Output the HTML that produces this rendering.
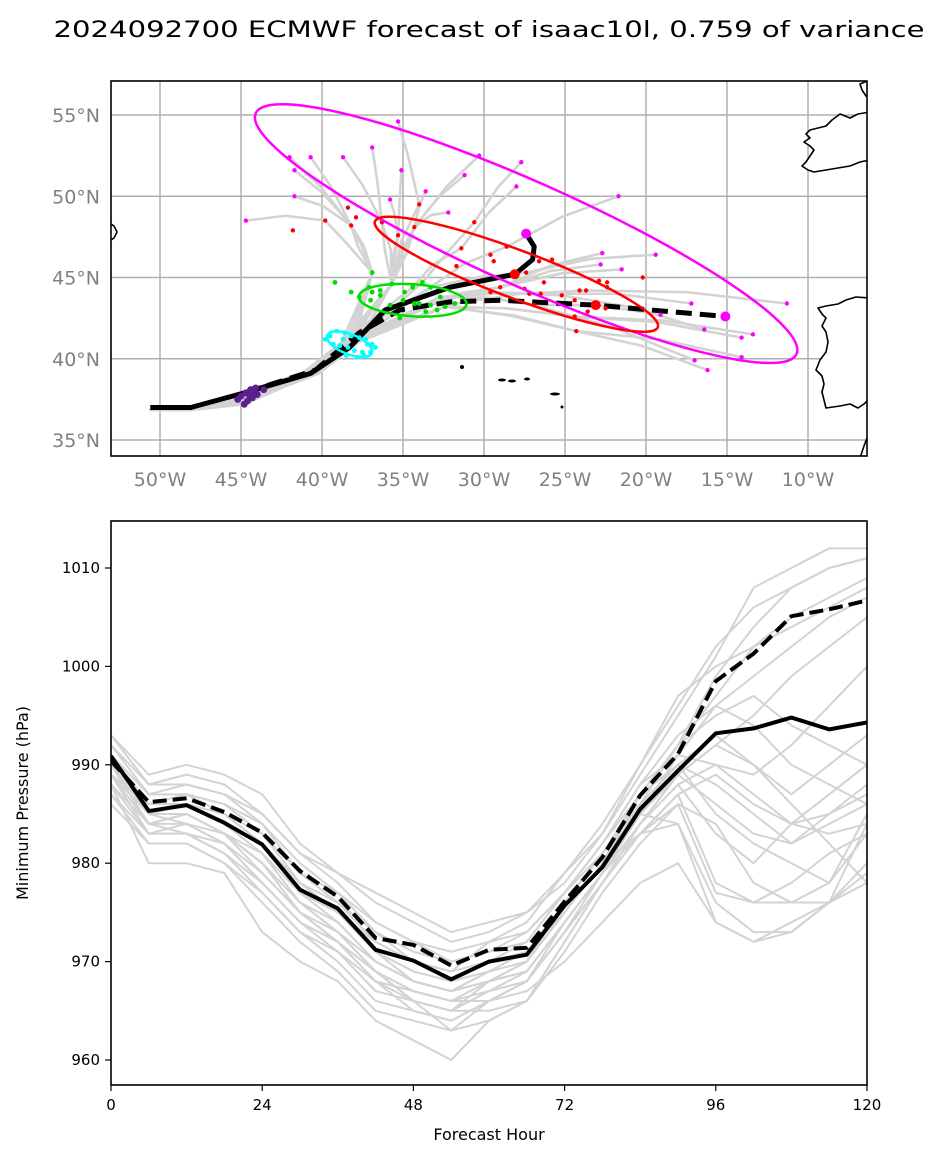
<!DOCTYPE html>
<html><head><meta charset="utf-8"><style>
html,body{margin:0;padding:0;background:#fff;}
svg{display:block;font-family:"DejaVu Sans","Liberation Sans",sans-serif;}
</style></head><body>
<svg id="fig" width="939" height="1163" viewBox="0 0 939 1163" xmlns="http://www.w3.org/2000/svg">
<rect width="939" height="1163" fill="#fff"/>
<text x="489" y="37" text-anchor="middle" font-size="22" textLength="871" lengthAdjust="spacingAndGlyphs">2024092700 ECMWF forecast of isaac10l, 0.759 of variance</text>
<defs><clipPath id="mapclip"><rect x="111" y="81" width="756" height="375"/></clipPath>
<clipPath id="tsclip"><rect x="111" y="521" width="756" height="564"/></clipPath></defs>
<g id="map"></g>
<g id="ts"></g>
</svg>
<script>
// ---------- MAP DATA (lon, lat) ----------
const lonTicks=[-50,-45,-40,-35,-30,-25,-20,-15,-10];
const latTicks=[35,40,45,50,55];
const meanTrackLon=[-50.6,-48.1,-44.8,-40.7,-38.3,-36.1,-32.1,-28.1,-27.0,-26.9,-27.4];
const meanTrackLat=[37.0,37.0,37.9,39.1,40.7,43.0,44.4,45.2,46.1,46.9,47.7];
const detTrackLon=[-44.8,-40.4,-37.7,-35.2,-32.1,-29.0,-23.1,-15.1];
const detTrackLat=[37.9,39.3,41.6,43.0,43.5,43.6,43.3,42.6];
const magLon=[-35.3,-36.9,-42.0,-40.7,-38.7,-41.7,-35.1,-30.3,-27.7,-31.2,-28.0,-33.6,-35.8,-41.7,-32.2,-21.7,-44.7,-22.7,-19.4,-22.8,-21.5,-17.2,-11.3,-19.1,-16.4,-14.1,-13.4,-14.1,-17.0,-16.2];
const magLat=[54.6,53.0,52.4,52.4,52.4,51.6,51.6,52.5,52.1,51.3,50.6,50.3,49.8,50.0,49.0,50.0,48.5,46.5,46.4,45.8,45.5,43.4,43.4,42.7,41.8,41.3,41.5,40.1,39.9,39.3];
const redLon=[-38.4,-37.9,-39.8,-38.2,-41.8,-34.0,-36.3,-34.3,-30.6,-35.3,-31.4,-28.6,-29.6,-29.4,-31.7,-26.6,-25.8,-27.4,-26.3,-20.2,-22.4,-22.9,-22.4,-24.1,-23.7,-25.2,-26.5,-27.5,-27.2,-24.4,-26.9,-22.5,-23.6,-24.4,-24.3,-29.0,-29.6];
const redLat=[49.3,48.7,48.5,48.2,47.9,49.5,48.4,48.1,48.4,47.6,46.8,46.9,46.4,46.0,45.7,46.0,46.1,45.3,44.7,45.0,44.7,44.8,44.4,44.2,44.2,43.9,44.0,44.3,44.0,43.6,43.3,43.1,42.9,42.6,41.7,44.4,44.1];
const grnLon=[-39.2,-36.9,-38.2,-37.7,-37.1,-37.0,-36.4,-35.7,-34.9,-34.4,-33.8,-33.3,-32.7,-31.8,-32.4,-32.9,-33.6,-34.3,-35.0,-35.8,-35.2,-34.0,-33.3,-36.4,-36.9];
const grnLat=[44.7,45.3,44.1,43.8,44.4,43.6,43.9,44.6,44.1,44.4,44.7,44.4,43.8,43.4,43.2,43.0,42.9,43.4,43.6,43.3,42.5,43.4,43.3,44.2,44.1];
const cyanLon=[-39.8,-39.5,-39.1,-38.6,-38.2,-37.7,-37.3,-36.9,-36.7,-37.0,-37.5,-38.0,-38.4,-38.9,-39.3,-38.5,-37.8,-37.4,-38.7,-37.2];
const cyanLat=[41.2,41.4,41.7,41.6,41.4,41.3,41.2,40.9,40.7,40.4,40.4,40.5,40.7,40.8,40.9,40.2,40.1,40.2,41.2,40.9];
const purLon=[-45.0,-44.7,-44.4,-44.1,-44.3,-44.6,-44.0,-45.2,-44.8,-43.6,-44.5,-44.2];
const purLat=[37.7,37.9,38.1,38.2,37.6,37.4,37.8,37.5,37.2,38.1,37.8,37.9];
const ellNames=['magenta','red','green','cyan'];
const ellLon=[-27.4,-28.0,-34.4,-38.3];
const ellLat=[47.7,45.2,43.6,40.9];
const ellA=[296,151,54,24];
const ellB=[52,24,16,10];
const ellRot=[24,20.5,4,22];
const ellColor=['#ff00ff','#ff0000','#00dd00','#00ffff'];

// ---------- PRESSURE DATA ----------
const hours=[0,6,12,18,24,30,36,42,48,54,60,66,72,78,84,90,96,102,108,114,120];
const hourTicks=[0,24,48,72,96,120];
const presTicks=[960,970,980,990,1000,1010];
const meanPres=[990.9,985.3,985.9,984.1,981.9,977.3,975.4,971.2,970.1,968.2,970.0,970.7,975.7,979.6,985.5,989.4,993.2,993.7,994.8,993.6,994.3];
const detPres=[990.4,986.2,986.6,985.2,983.1,979.2,976.6,972.4,971.7,969.6,971.2,971.4,976.1,980.6,986.9,991.1,998.5,1001.3,1005.1,1005.8,1006.7];
const m1=[993,989,990,989,987,982,979,977,975,973,974,975,978,983,989,995,1001,1008,1010,1012,1012];
const m2=[989,983,984,982,978,974,972,968,966,965,968,970,975,980,987,992,999,1004,1008,1010,1011];
const m3=[988,980,980,979,973,970,968,964,962,960,964,966,972,978,984,989,992,990,986,982,978];
const m4=[991,987,988,987,984,979,976,973,970,969,972,974,979,983,990,997,1000,1002,1005,1007,1009];
const m5=[987,982,982,980,977,973,970,966,965,964,966,967,970,974,978,980,974,972,973,976,980];
const m6=[990,986,987,985,983,978,976,972,970,969,970,972,977,982,988,991,990,987,984,983,984];
const m7=[989,984,985,983,981,977,975,971,968,967,969,971,976,981,985,989,986,983,982,985,988];
const m8=[992,988,989,988,985,981,978,974,972,970,971,973,977,982,987,992,995,997,994,992,990];
const m9=[990,984,983,982,978,974,971,967,966,965,967,968,973,978,984,988,990,989,992,996,1000];
const m10=[988,983,983,981,977,973,971,968,967,966,966,968,973,979,986,990,988,985,982,984,986];
const m11=[991,986,986,985,982,978,975,972,970,968,970,971,975,980,983,987,978,976,978,981,983];
const m12=[989,985,986,984,981,976,973,969,966,965,965,966,972,978,983,984,974,972,974,976,979];
const m13=[990,984,985,983,980,976,973,970,968,967,968,969,974,979,985,991,996,999,1002,1005,1007];
const m14=[992,987,987,986,983,979,977,973,971,970,971,972,977,982,988,993,996,994,990,988,986];
const m15=[987,983,983,981,978,974,972,969,966,963,966,968,974,979,983,986,977,976,976,978,983];
const m16=[990,985,986,985,982,978,975,971,969,968,969,970,976,981,987,990,993,990,987,990,993];
const m17=[991,987,987,986,984,980,977,974,972,971,972,973,977,981,986,992,997,1002,1004,1006,1008];
const m18=[988,984,984,982,979,975,973,969,967,966,967,969,974,979,984,988,983,980,984,987,990];
const m19=[989,986,986,984,982,977,974,970,968,967,969,970,975,980,986,990,985,982,980,978,985];
const m20=[990,985,985,983,980,975,972,968,965,964,966,968,973,978,983,987,989,986,984,985,987];
const m21=[993,988,988,987,985,981,979,976,974,972,973,975,979,984,990,996,1002,1006,1008,1010,1011];
const m22=[986,982,982,980,976,972,969,965,964,963,964,966,971,977,982,986,984,978,976,976,978];
const m23=[990,985,984,983,979,975,972,969,967,966,968,969,974,979,984,989,992,995,999,1002,1005];
const m24=[989,984,985,983,980,976,974,970,968,967,968,970,975,980,985,984,976,973,973,976,984];
const members=[m1,m2,m3,m4,m5,m6,m7,m8,m9,m10,m11,m12,m13,m14,m15,m16,m17,m18,m19,m20,m21,m22,m23,m24];

const NS='http://www.w3.org/2000/svg';
function mk(tag,attrs,parent){const e=document.createElementNS(NS,tag);for(const k in attrs)e.setAttribute(k,attrs[k]);parent.appendChild(e);return e;}
const px=lon=>160+(lon+50)*16.2;
const py=lat=>115+(55-lat)*16.25;
const hx=h=>111+h*6.3;
const vy=p=>568+(1010-p)*9.84;

// ---------- MAP ----------
const map=document.getElementById('map');
const inner=mk('g',{'clip-path':'url(#mapclip)'},map);
lonTicks.forEach(l=>{const g=mk('line',{x1:px(l),x2:px(l),y1:81,y2:456,stroke:'#b0b0b0','stroke-width':1.5},inner);

});
latTicks.forEach(l=>{const g=mk('line',{x1:111,x2:867,y1:py(l),y2:py(l),stroke:'#b0b0b0','stroke-width':1.5},inner);

});
const land=mk('g',{fill:'#fff',stroke:'#000','stroke-width':1.6,'stroke-linejoin':'round'},inner);


mk('path',{d:'M870,112 L858,114 L850,118 L840,114 L832,120 L826,126 L818,128 L810,130 L806,134 L810,138 L804,142 L810,146 L814,150 L810,156 L806,162 L802,166 L808,170 L814,172 L826,170 L838,168 L850,166 L860,162 L870,160 Z'},land);
mk('path',{d:'M860,84 L862,90 L866,96 L870,100 L870,80 Z'},land);
mk('path',{d:'M870,298 L856,297 L846,300 L838,304 L826,306 L818,308 L822,314 L826,318 L822,326 L826,332 L828,342 L826,352 L820,360 L816,370 L822,376 L824,384 L822,392 L824,400 L826,408 L840,406 L850,404 L858,408 L864,404 L870,398 Z'},land);
mk('path',{d:'M108,222 L114,226 L117,232 L114,238 L108,242 Z'},land);
mk('path',{d:'M870,430 L864,446 L860,458 L870,458 Z'},land);
[[462,367,2,2],[502,380,4,1.5],[512,381,4,1.5],[527,379,3,1.5],[555,394,5,1.5],[562,407,1.5,1.5]].forEach(a=>{mk('ellipse',{cx:a[0],cy:a[1],rx:a[2],ry:a[3],fill:'#000',stroke:'none'},land);});
// gray ensemble tracks
const gray=mk('g',{fill:'none',stroke:'#d3d3d3','stroke-width':2.6,'stroke-linejoin':'round','stroke-linecap':'round'},inner);


function nearest(lons,lats,tl,tt){let b=0,bd=1e9;for(let i=0;i<lons.length;i++){const d=(lons[i]-tl)**2+(lats[i]-tt)**2;if(d<bd){bd=d;b=i;}}return b;}
magLon.forEach((ml,i)=>{
  const mt=magLat[i];
  const pi=i%purLon.length;
  const ri=nearest(redLon,redLat,0.5*(-35)+0.5*ml,0.5*44+0.5*mt);
  const gi=nearest(grnLon,grnLat,0.7*(-35.5)+0.3*redLon[ri],0.7*43.6+0.3*redLat[ri]);
  const o=0.25*((i%5)-2);
  const pts=[[meanTrackLon[0],meanTrackLat[0]-0.15],[meanTrackLon[1],meanTrackLat[1]-0.15],[purLon[pi],purLat[pi]],[meanTrackLon[3]+o,meanTrackLat[3]],[meanTrackLon[4]+o,meanTrackLat[4]+0.3],[grnLon[gi],grnLat[gi]],[(grnLon[gi]+redLon[ri])/2+o*0.5,(grnLat[gi]+redLat[ri])/2+0.2],[redLon[ri],redLat[ri]],[(redLon[ri]+ml)/2,(redLat[ri]+mt)/2+0.3],[ml,mt]];
  const p=mk('polyline',{points:pts.map(q=>px(q[0])+','+py(q[1])).join(' ')},gray);
  
  
});
const mt=mk('polyline',{points:meanTrackLon.map((l,i)=>px(l)+','+py(meanTrackLat[i])).join(' '),fill:'none',stroke:'#000','stroke-width':5,'stroke-linejoin':'round'},inner);


const dt=mk('polyline',{points:detTrackLon.map((l,i)=>px(l)+','+py(detTrackLat[i])).join(' '),fill:'none',stroke:'#000','stroke-width':5,'stroke-dasharray':'16,8'},inner);


function dots(lons,lats,color,r,name){const g=mk('g',{fill:color},inner);


lons.forEach((l,i)=>mk('circle',{cx:px(l),cy:py(lats[i]),r:r},g));}
dots(purLon,purLat,'#5b1f8f',3.5,'day1-positions');
dots(cyanLon,cyanLat,'#00ffff',2.4,'day2-positions');
dots(grnLon,grnLat,'#00dd00',2.4,'day3-positions');
dots(redLon,redLat,'#ff0000',2.2,'day4-positions');
dots(magLon,magLat,'#ff00ff',2.2,'day5-positions');
ellLon.forEach((l,i)=>{const cx=px(l),cy=py(ellLat[i]);
const e=mk('ellipse',{cx:cx,cy:cy,rx:ellA[i],ry:ellB[i],fill:'none',stroke:ellColor[i],'stroke-width':2.5,transform:`rotate(${ellRot[i]} ${cx} ${cy})`},inner);

});
[[meanTrackLon[10],meanTrackLat[10],'#ff00ff'],[meanTrackLon[7],meanTrackLat[7],'#ff0000'],[detTrackLon[7],detTrackLat[7],'#ff00ff'],[detTrackLon[6],detTrackLat[6],'#ff0000']].forEach(d=>{
const c=mk('circle',{cx:px(d[0]),cy:py(d[1]),r:5,fill:d[2]},inner);

});
mk('rect',{x:111,y:81,width:756,height:375,fill:'none',stroke:'#000','stroke-width':1.6},map);
lonTicks.forEach(l=>{const t=mk('text',{x:px(l),y:486,'text-anchor':'middle','font-size':19,fill:'#808080'},map);t.textContent=Math.abs(l)+'°W';

});
latTicks.forEach(l=>{const t=mk('text',{x:100,y:py(l)+7,'text-anchor':'end','font-size':19,fill:'#808080'},map);t.textContent=l+'°N';

});

// ---------- PRESSURE CHART ----------
const ts=document.getElementById('ts');
const tin=mk('g',{'clip-path':'url(#tsclip)'},ts);
const mg=mk('g',{fill:'none',stroke:'#d3d3d3','stroke-width':2,'stroke-linejoin':'round'},tin);


members.forEach(m=>{const p=mk('polyline',{points:m.map((v,i)=>hx(hours[i])+','+vy(v)).join(' ')},mg);

});
const ml=mk('polyline',{points:meanPres.map((v,i)=>hx(hours[i])+','+vy(v)).join(' '),fill:'none',stroke:'#000','stroke-width':4,'stroke-linejoin':'round'},tin);


const dl=mk('polyline',{points:detPres.map((v,i)=>hx(hours[i])+','+vy(v)).join(' '),fill:'none',stroke:'#000','stroke-width':4,'stroke-dasharray':'14,6'},tin);


mk('rect',{x:111,y:521,width:756,height:564,fill:'none',stroke:'#000','stroke-width':1.6},ts);
hourTicks.forEach(h=>{mk('line',{x1:hx(h),x2:hx(h),y1:1085,y2:1091,stroke:'#000','stroke-width':1.2},ts);
const t=mk('text',{x:hx(h),y:1110,'text-anchor':'middle','font-size':15},ts);t.textContent=h;

});
presTicks.forEach(p=>{mk('line',{x1:105,x2:111,y1:vy(p),y2:vy(p),stroke:'#000','stroke-width':1.2},ts);
const t=mk('text',{x:100,y:vy(p)+5,'text-anchor':'end','font-size':15},ts);t.textContent=p;

});
const xt=mk('text',{x:489,y:1140,'text-anchor':'middle','font-size':16},ts);xt.textContent='Forecast Hour';


const yt=mk('text',{x:0,y:0,'text-anchor':'middle','font-size':16,transform:'translate(28,803) rotate(-90)'},ts);yt.textContent='Minimum Pressure (hPa)';


</script>
</body></html>
